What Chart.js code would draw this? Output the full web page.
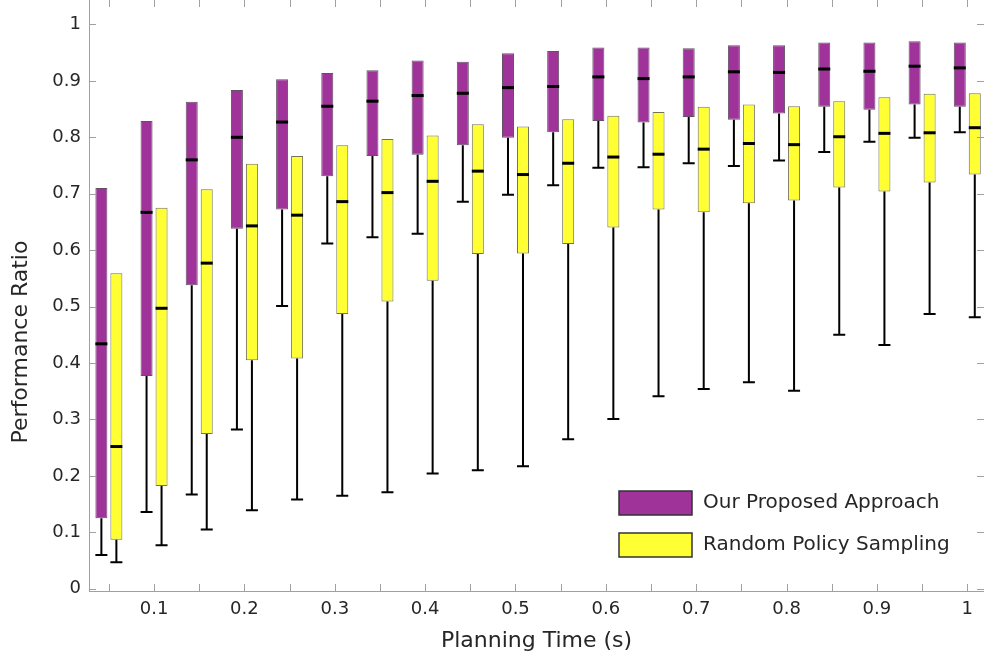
<!DOCTYPE html>
<html>
<head>
<meta charset="utf-8">
<script src="https://cdn.jsdelivr.net/npm/chart.js@4.4.1/dist/chart.umd.min.js"></script>
<style>
  html, body { margin: 0; padding: 0; background: #fff; }
  #wrap { width: 984px; height: 657px; }
</style>
</head>
<body>
<div id="wrap"><canvas id="boxChart"></canvas></div>
<script>
// planning times (s), one box pair per time
var times = [0.05, 0.1, 0.15, 0.2, 0.25, 0.3, 0.35, 0.4, 0.45, 0.5,
             0.55, 0.6, 0.65, 0.7, 0.75, 0.8, 0.85, 0.9, 0.95, 1.0];
var yTicks = [0, 0.1, 0.2, 0.3, 0.4, 0.5, 0.6, 0.7, 0.8, 0.9, 1];

// Our Proposed Approach
var oursMin = [0.060, 0.136, 0.167, 0.282, 0.501, 0.612, 0.623, 0.629, 0.686, 0.698,
               0.715, 0.746, 0.747, 0.754, 0.749, 0.759, 0.774, 0.792, 0.799, 0.809];
var oursQ1  = [0.125, 0.377, 0.538, 0.638, 0.672, 0.731, 0.767, 0.769, 0.786, 0.799,
               0.809, 0.829, 0.826, 0.836, 0.831, 0.842, 0.854, 0.849, 0.858, 0.854];
var oursMed = [0.434, 0.667, 0.760, 0.800, 0.827, 0.855, 0.864, 0.874, 0.878, 0.888,
               0.890, 0.907, 0.904, 0.907, 0.916, 0.915, 0.921, 0.917, 0.926, 0.923];
var oursQ3  = [0.710, 0.829, 0.863, 0.884, 0.903, 0.914, 0.919, 0.936, 0.934, 0.949,
               0.953, 0.959, 0.959, 0.958, 0.963, 0.963, 0.968, 0.968, 0.970, 0.968];

// Random Policy Sampling
var randMin = [0.047, 0.077, 0.105, 0.139, 0.158, 0.165, 0.171, 0.204, 0.210, 0.217,
               0.265, 0.301, 0.341, 0.354, 0.366, 0.351, 0.450, 0.432, 0.487, 0.481];
var randQ1  = [0.087, 0.182, 0.274, 0.405, 0.408, 0.487, 0.509, 0.546, 0.593, 0.594,
               0.611, 0.640, 0.672, 0.667, 0.683, 0.688, 0.711, 0.704, 0.720, 0.734];
var randMed = [0.252, 0.497, 0.577, 0.643, 0.662, 0.686, 0.702, 0.722, 0.740, 0.734,
               0.754, 0.765, 0.770, 0.779, 0.789, 0.787, 0.801, 0.807, 0.808, 0.817];
var randQ3  = [0.559, 0.675, 0.708, 0.753, 0.767, 0.786, 0.797, 0.803, 0.823, 0.819,
               0.832, 0.838, 0.845, 0.854, 0.858, 0.855, 0.864, 0.871, 0.877, 0.878];

var FONT = "'DejaVu Sans', 'Liberation Sans', sans-serif";
var TEXT = "#262626";
var AXIS = "#a0a0a0";

function boxes(q1, q3) {
    return times.map(function (t, i) { return { x: t, y: [q1[i], q3[i]] }; });
}

var stats = [
    { min: oursMin, med: oursMed },
    { min: randMin, med: randMed }
];

// medians and lower whiskers, placed from the bar elements and the y scale
var boxExtras = {
    id: "boxExtras",
    afterDatasetsDraw: function (chart) {
        var ctx = chart.ctx;
        var ys = chart.scales.y;
        ctx.save();
        ctx.strokeStyle = "#000";
        stats.forEach(function (s, d) {
            var meta = chart.getDatasetMeta(d);
            meta.data.forEach(function (bar, i) {
                var half = bar.width / 2;
                var yQ1 = ys.getPixelForValue(chart.data.datasets[d].data[i].y[0]);
                var yMin = ys.getPixelForValue(s.min[i]);
                var yMed = ys.getPixelForValue(s.med[i]);
                ctx.lineWidth = 2;
                ctx.beginPath();
                ctx.moveTo(bar.x, yQ1);
                ctx.lineTo(bar.x, yMin);
                ctx.moveTo(bar.x - half, yMin);
                ctx.lineTo(bar.x + half, yMin);
                ctx.stroke();
                ctx.lineWidth = 3;
                ctx.beginPath();
                ctx.moveTo(bar.x - half, yMed);
                ctx.lineTo(bar.x + half, yMed);
                ctx.stroke();
            });
        });
        ctx.restore();
    }
};

// inward tick marks on all four sides, y title and the legend box
var frame = {
    id: "frame",
    afterDraw: function (chart) {
        var ctx = chart.ctx;
        var a = chart.chartArea;
        var xs = chart.scales.x, ys = chart.scales.y;
        ctx.save();
        ctx.strokeStyle = AXIS;
        ctx.lineWidth = 1;
        ctx.beginPath();
        times.forEach(function (t) {
            var px = Math.round(xs.getPixelForValue(t)) + 0.5;
            ctx.moveTo(px, a.bottom); ctx.lineTo(px, a.bottom - 7);
            ctx.moveTo(px, a.top); ctx.lineTo(px, a.top + 7);
        });
        yTicks.forEach(function (v) {
            var py = Math.round(ys.getPixelForValue(v)) + 0.5;
            ctx.moveTo(a.left, py); ctx.lineTo(a.left + 7, py);
            ctx.moveTo(a.right, py); ctx.lineTo(a.right - 7, py);
        });
        ctx.stroke();

        ctx.fillStyle = TEXT;
        ctx.font = "22px " + FONT;
        ctx.translate(27, 342);
        ctx.rotate(-Math.PI / 2);
        ctx.textAlign = "center";
        ctx.textBaseline = "alphabetic";
        ctx.fillText("Performance Ratio", 0, 0);
        ctx.restore();

        ctx.save();
        ctx.font = "20px " + FONT;
        ctx.textBaseline = "middle";
        ctx.textAlign = "left";
        chart.data.datasets.forEach(function (ds, k) {
            var top = 491 + k * 42;
            ctx.fillStyle = ds.backgroundColor;
            ctx.fillRect(619, top, 73, 24);
            ctx.strokeStyle = "#333";
            ctx.lineWidth = 1.5;
            ctx.strokeRect(619, top, 73, 24);
            ctx.fillStyle = TEXT;
            ctx.fillText(ds.label, 703, top + 12);
        });
        ctx.restore();
    }
};

var ctx = document.getElementById("boxChart").getContext("2d");
new Chart(ctx, {
    type: "bar",
    data: {
        datasets: [{
            label: "Our Proposed Approach",
            data: boxes(oursQ1, oursQ3),
            backgroundColor: "#9f339a",
            borderColor: "rgba(70, 50, 70, 0.85)",
            borderWidth: 1,
            borderSkipped: false
        }, {
            label: "Random Policy Sampling",
            data: boxes(randQ1, randQ3),
            backgroundColor: "#ffff33",
            borderColor: "rgba(90, 90, 60, 0.85)",
            borderWidth: 1,
            borderSkipped: false
        }]
    },
    options: {
        responsive: true,
        maintainAspectRatio: false,
        animation: false,
        categoryPercentage: 0.664,
        barPercentage: 0.8,
        layout: { padding: 0 },
        scales: {
            x: {
                type: "linear",
                offset: false,
                min: 0.028,
                max: 1.0185,
                afterBuildTicks: function (s) {
                    s.ticks = times.map(function (t) { return { value: t }; });
                },
                afterFit: function (s) {
                    s.height = 66;
                    s.paddingLeft = 0; s.paddingRight = 0;
                },
                grid: { display: false, drawTicks: false },
                border: { display: true, color: AXIS, width: 1 },
                ticks: {
                    autoSkip: false,
                    maxRotation: 0,
                    padding: 8,
                    color: TEXT,
                    font: { family: FONT, size: 18 },
                    callback: function (v) {
                        var k = Math.round(v * 100);
                        return k % 10 === 0 ? String(k / 100) : "";
                    }
                },
                title: {
                    display: true,
                    text: "Planning Time (s)",
                    color: TEXT,
                    font: { family: FONT, size: 22 },
                    padding: { top: 0, bottom: 3 }
                }
            },
            y: {
                min: -0.004,
                max: 1.0433,
                afterBuildTicks: function (s) {
                    s.ticks = yTicks.map(function (v) { return { value: v }; });
                },
                afterFit: function (s) {
                    s.width = 89;
                    s.paddingTop = 0; s.paddingBottom = 0;
                },
                grid: { display: false, drawTicks: false },
                border: { display: true, color: AXIS, width: 1 },
                ticks: {
                    padding: 8,
                    color: TEXT,
                    font: { family: FONT, size: 18 },
                    callback: function (v) { return String(Math.round(v * 10) / 10); }
                }
            }
        },
        plugins: {
            legend: { display: false },
            tooltip: { enabled: false }
        }
    },
    plugins: [boxExtras, frame]
});
</script>
</body>
</html>
